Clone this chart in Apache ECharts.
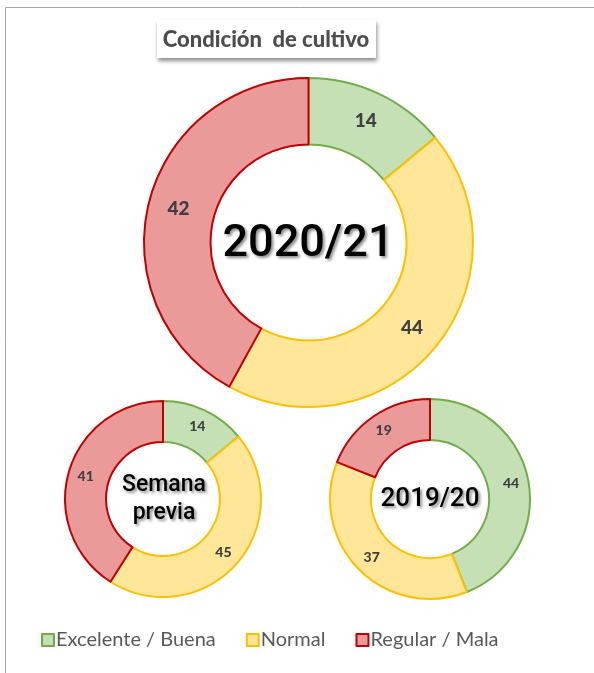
<!DOCTYPE html>
<html>
<head>
<meta charset="utf-8">
<script src="https://cdn.jsdelivr.net/npm/echarts@6/dist/echarts.min.js"></script>
<style>
  html, body { margin: 0; padding: 0; background: #fff; }
  #chart { width: 594px; height: 673px; }
</style>
</head>
<body>
<div id="chart"></div>
<script>
// condiciones del cultivo (%)
const categorias = ['Excelente / Buena', 'Normal', 'Regular / Mala'];
const actual = [14, 44, 42];        // 2020/21
const semanaPrevia = [14, 45, 41];
const anioPrevio = [44, 37, 19];    // 2019/20

const rellenos = ['#C5E0B4', '#FFE699', '#EB9A9A'];
const bordes = ['#70AD47', '#FFC000', '#C00000'];

const fuente = 'Lato, "Open Sans", sans-serif';

function armarDatos(valores) {
    return valores.map((v, i) => ({
        name: categorias[i],
        value: v,
        itemStyle: { color: rellenos[i], borderColor: bordes[i], borderWidth: 2 }
    }));
}

function anillo(valores, centro, radio, tamLetra) {
    return {
        type: 'pie',
        center: centro,
        radius: radio,
        startAngle: 90,
        clockwise: true,
        silent: true,
        avoidLabelOverlap: false,
        label: {
            show: true,
            position: 'inside',
            formatter: '{c}',
            color: '#404040',
            fontFamily: fuente,
            fontWeight: 900,
            fontSize: tamLetra
        },
        labelLine: { show: false },
        data: armarDatos(valores)
    };
}

const sombra = {
    textShadowColor: 'rgba(0,0,0,0.45)',
    textShadowBlur: 3,
    textShadowOffsetX: 2,
    textShadowOffsetY: 2
};

const chart = echarts.init(document.getElementById('chart'));

chart.setOption({
    animation: false,
    legend: {
        data: categorias,
        bottom: 18,
        left: 36,
        icon: 'rect',
        itemWidth: 12,
        itemHeight: 12,
        itemGap: 30,
        selectedMode: false,
        textStyle: { color: '#595959', fontFamily: fuente, fontSize: 20, padding: [0, 0, 0, -3] }
    },
    graphic: [
        // marco
        { type: 'line', shape: { x1: 5.5, y1: 7.5, x2: 594, y2: 7.5 }, style: { stroke: '#A6A6A6', lineWidth: 1 } },
        { type: 'line', shape: { x1: 5.5, y1: 7.5, x2: 5.5, y2: 673 }, style: { stroke: '#A6A6A6', lineWidth: 1 } },
        // título
        {
            type: 'rect',
            shape: { x: 157, y: 20, width: 219, height: 38 },
            style: { fill: '#fff', shadowColor: 'rgba(0,0,0,0.45)', shadowBlur: 4, shadowOffsetX: 1, shadowOffsetY: 3 }
        },
        {
            type: 'text',
            x: 266, y: 40,
            style: {
                text: 'Condición  de cultivo',
                fill: '#4D4D4D',
                font: '900 22px ' + fuente,
                align: 'center',
                verticalAlign: 'middle'
            }
        },
        {
            type: 'text', x: 308, y: 245, z: 10,
            style: Object.assign({
                text: '2020/21', fill: '#000', font: '500 45px Roboto, sans-serif',
                align: 'center', verticalAlign: 'middle'
            }, sombra)
        },
        {
            type: 'text', x: 164, y: 499, z: 10,
            style: Object.assign({
                text: 'Semana\nprevia', fill: '#000', font: '500 23px Roboto, sans-serif',
                align: 'center', verticalAlign: 'middle', lineHeight: 28
            }, sombra)
        },
        {
            type: 'text', x: 430, y: 499, z: 10,
            style: Object.assign({
                text: '2019/20', fill: '#000', font: '500 26px Roboto, sans-serif',
                align: 'center', verticalAlign: 'middle'
            }, sombra)
        }
    ],
    series: [
        anillo(actual, [308.5, 242.5], [98, 164.5], 19),
        anillo(semanaPrevia, [163, 499], [57, 98], 14),
        anillo(anioPrevio, [430, 499], [59, 100], 14)
    ]
});
</script>
</body>
</html>
